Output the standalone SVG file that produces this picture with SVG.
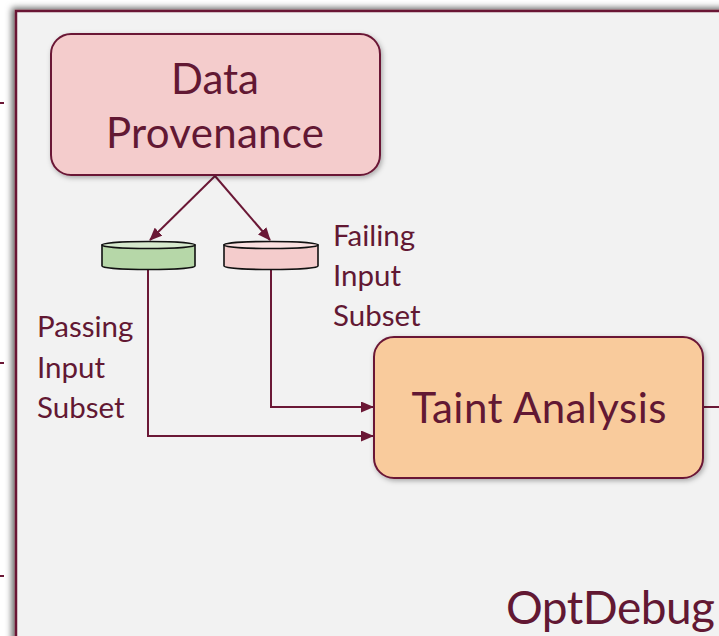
<svg xmlns="http://www.w3.org/2000/svg" width="719" height="636" viewBox="0 0 719 636">
  <defs>
    <style>
      .lbl { font-family: Lato, "Open Sans", "Liberation Sans", sans-serif; fill: #621833; }
      .edge { fill: none; stroke: #6b1836; stroke-width: 2; }
      .node { stroke: #6b1836; stroke-width: 2; }
      .can { stroke: #111; stroke-width: 1.6; }
    </style>
    <marker id="tip" viewBox="0 0 13 11" refX="12" refY="5.5" markerWidth="13" markerHeight="11" markerUnits="userSpaceOnUse" orient="auto">
      <path d="M0,0 L13,5.5 L0,11 Z" fill="#6b1836"/>
    </marker>
    <filter id="shade" x="-10%" y="-10%" width="120%" height="130%">
      <feDropShadow dx="1.5" dy="2" stdDeviation="2.5" flood-color="#000" flood-opacity="0.3"/>
    </filter>
    <filter id="frameShade" x="-5%" y="-5%" width="110%" height="110%">
      <feDropShadow dx="-3" dy="-2" stdDeviation="3" flood-color="#000" flood-opacity="0.6"/>
    </filter>
  </defs>

  <!-- page -->
  <rect x="0" y="0" width="719" height="636" fill="#ffffff"/>

  <!-- stub lines entering from the left -->
  <g id="stubs" stroke="#6b1836" stroke-width="2">
    <line x1="0" y1="103" x2="4" y2="103"/>
    <line x1="0" y1="363" x2="4" y2="363"/>
    <line x1="0" y1="576" x2="4" y2="576"/>
  </g>

  <!-- OptDebug container -->
  <g id="optdebug">
    <rect x="16" y="11" width="740" height="660" fill="#f2f2f2" stroke="#6b1836" stroke-width="2.5" filter="url(#frameShade)"/>
    <text class="lbl" x="506" y="624" font-size="46" textLength="209">OptDebug</text>
  </g>

  <!-- connectors -->
  <g id="connectors">
    <path class="edge" d="M215,176 L150,240" marker-end="url(#tip)"/>
    <path class="edge" d="M215,176 L270,240" marker-end="url(#tip)"/>
    <path class="edge" d="M148,269 L148,436 L373,436" marker-end="url(#tip)"/>
    <path class="edge" d="M271,269 L271,407 L373,407" marker-end="url(#tip)"/>
    <path class="edge" d="M703,407 L719,407"/>
  </g>

  <!-- Data Provenance -->
  <g id="data-provenance">
    <rect class="node" x="51" y="34" width="329" height="141" rx="20" fill="#f4cccc" filter="url(#shade)"/>
    <text class="lbl" x="215" y="94" font-size="42" text-anchor="middle">Data</text>
    <text class="lbl" x="215" y="148" font-size="42" text-anchor="middle" textLength="218">Provenance</text>
  </g>

  <!-- passing input subset store -->
  <g id="passing-subset">
    <path class="can" d="M102,245 L102,266 A46.5,3.5 0 0 0 195,266 L195,245 Z" fill="#b6d7a8"/>
    <ellipse class="can" cx="148.5" cy="245" rx="46.5" ry="3.5" fill="#d5e8cc"/>
    <text class="lbl" font-size="29.5">
      <tspan x="37" y="337">Passing</tspan>
      <tspan x="37" y="378">Input</tspan>
      <tspan x="37" y="418">Subset</tspan>
    </text>
  </g>

  <!-- failing input subset store -->
  <g id="failing-subset">
    <path class="can" d="M224,245 L224,266 A47,3.5 0 0 0 318,266 L318,245 Z" fill="#f4cccc"/>
    <ellipse class="can" cx="271" cy="245" rx="47" ry="3.5" fill="#fae0e0"/>
    <text class="lbl" font-size="29.5">
      <tspan x="333" y="246">Failing</tspan>
      <tspan x="333" y="286">Input</tspan>
      <tspan x="333" y="326">Subset</tspan>
    </text>
  </g>

  <!-- Taint Analysis -->
  <g id="taint-analysis">
    <rect class="node" x="374" y="337" width="329" height="141" rx="20" fill="#f9cb9c" filter="url(#shade)"/>
    <text class="lbl" x="539" y="423" font-size="42" text-anchor="middle" textLength="255">Taint Analysis</text>
  </g>
</svg>
